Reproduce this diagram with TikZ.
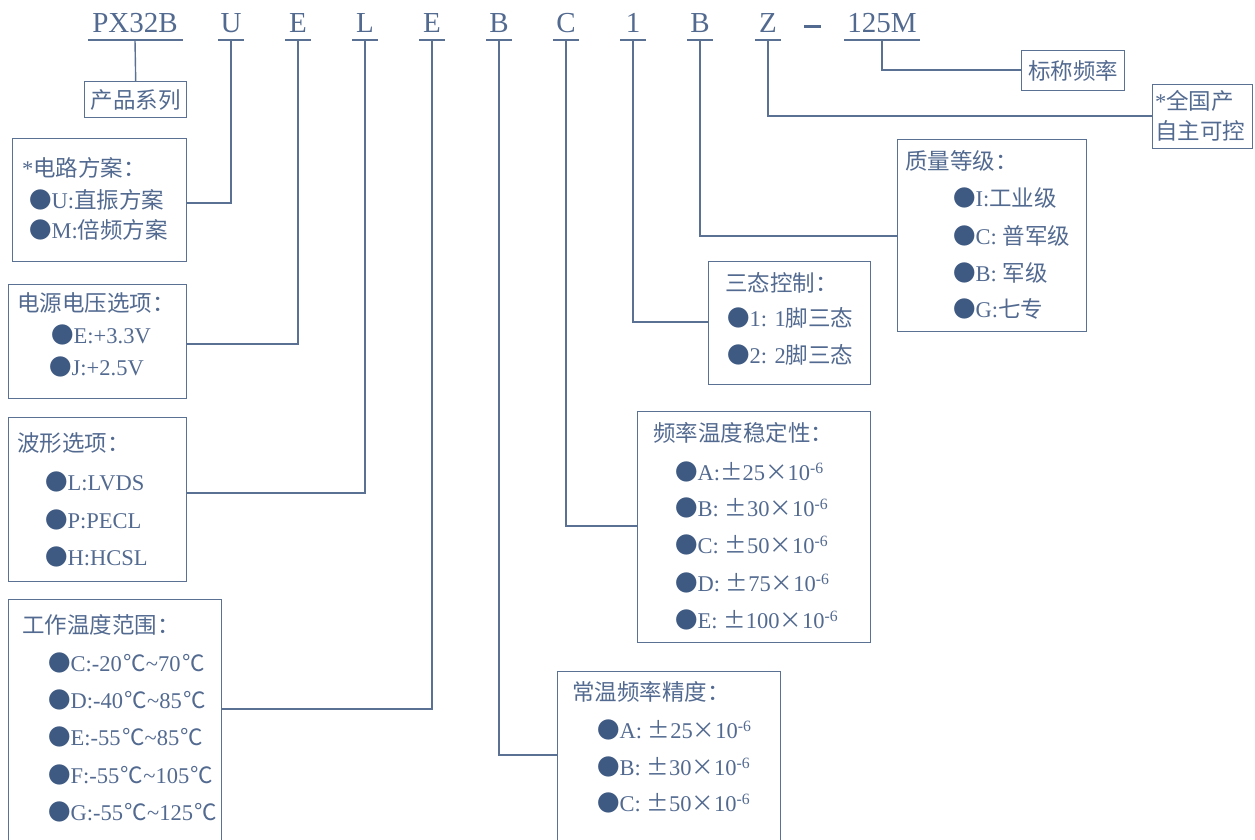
\documentclass[tikz,border=0pt]{standalone}
\usepackage{fontspec}
\setmainfont{Liberation Serif}
\newfontfamily\zhfont{Noto Sans CJK SC}
\newcommand\zh[1]{{\zhfont #1}}
\definecolor{txt}{HTML}{536A90}
\definecolor{lnc}{HTML}{5A7194}
\definecolor{bul}{HTML}{3E5A82}
\newcommand\bu{\zh{\textcolor{bul}{●}}}
\newcommand\ppm[1]{\zh{±}#1\zh{×}10\textsuperscript{-6}}
\newcommand\dg{\kern1.5pt\zh{℃}}
\begin{document}
\begin{tikzpicture}[x=1pt,y=-1pt,
  hdr/.style={font=\fontsize{29}{30}\selectfont, text=txt, inner sep=0pt, anchor=base},
  conn/.style={draw=lnc, line width=1.4pt},
  box/.style={draw=lnc, line width=1.4pt, anchor=north west, inner sep=0pt},
  lbl/.style={font=\fontsize{22.5}{24}\selectfont, text=txt, inner sep=0pt, anchor=west},
  clbl/.style={font=\fontsize{22.5}{24}\selectfont, text=txt, inner sep=0pt}]
\useasboundingbox (0,0) rectangle (1255,839);
% header
\node[hdr] (hP) at (135,32) {PX32B};
\node[hdr] (hU) at (231,32) {U};
\node[hdr] (hE1) at (298,32) {E};
\node[hdr] (hL) at (365,32) {L};
\node[hdr] (hE2) at (432,32) {E};
\node[hdr] (hB1) at (499,32) {B};
\node[hdr] (hC) at (566,32) {C};
\node[hdr] (h1) at (633,32) {1};
\node[hdr] (hB2) at (700,32) {B};
\node[hdr] (hZ) at (768,32) {Z};
\node[inner sep=0pt, fill=txt, minimum width=17pt, minimum height=3pt] (hDash) at (812,26) {};
\node[hdr] (hM) at (882,32) {125M};
% underline anchors
\coordinate (uP) at (135,40);
\coordinate (uU) at (231,40);
\coordinate (uE1) at (298,40);
\coordinate (uL) at (365,40);
\coordinate (uE2) at (432,40);
\coordinate (uB1) at (499,40);
\coordinate (uC) at (566,40);
\coordinate (u1) at (633,40);
\coordinate (uB2) at (700,40);
\coordinate (uZ) at (768,40);
\coordinate (uM) at (882,40);
\draw[conn] ([xshift=-47pt]uP) -- ([xshift=48pt]uP);
\foreach \c in {uU,uE1,uL,uE2,uB1,uC,u1,uB2,uZ}
  \draw[conn] ([xshift=-13pt]\c) -- ([xshift=13pt]\c);
\draw[conn] ([xshift=-38pt]uM) -- ([xshift=38pt]uM);
% boxes
\node[box, minimum width=102pt, minimum height=36pt] (bSeries) at (84,81) {};
\node[clbl] (tSeries) at (bSeries.center) {\zh{产品系列}};
\node[box, minimum width=103pt, minimum height=40pt] (bFreq) at (1021,50) {};
\node[clbl] (tFreq) at (bFreq.center) {\zh{标称频率}};
\node[box, minimum width=100pt, minimum height=64pt] (bDom) at (1152,84) {};
\node[lbl] (tDom1) at (1155,101) {*\zh{全国产}};
\node[lbl] (tDom2) at (1155,131) {\zh{自主可控}};

\node[box, minimum width=174pt, minimum height=123pt] (bCirc) at (12,138) {};
\node[lbl] (tCirc) at (22,168) {*\zh{电路方案：}};
\node[lbl] (iCirc1) at (29,200) {\bu U:\zh{直振方案}};
\node[lbl] (iCirc2) at (29,230) {\bu M:\zh{倍频方案}};

\node[box, minimum width=178pt, minimum height=114pt] (bVolt) at (8,284) {};
\node[lbl] (tVolt) at (17,303) {\zh{电源电压选项：}};
\node[lbl] (iVolt1) at (51,335) {\bu E:+3.3V};
\node[lbl] (iVolt2) at (49,367) {\bu J:+2.5V};

\node[box, minimum width=178pt, minimum height=164pt] (bWave) at (8,417) {};
\node[lbl] (tWave) at (17,443) {\zh{波形选项：}};
\node[lbl] (iWave1) at (45,482) {\bu L:LVDS};
\node[lbl] (iWave2) at (45,520) {\bu P:PECL};
\node[lbl] (iWave3) at (45,557) {\bu H:HCSL};

\node[box, minimum width=213pt, minimum height=260pt] (bTemp) at (8,599) {};
\node[lbl] (tTemp) at (22,625) {\zh{工作温度范围：}};
\node[lbl] (iTemp1) at (48,663) {\bu C:-20\dg\textasciitilde70\dg};
\node[lbl] (iTemp2) at (48,700) {\bu D:-40\dg\textasciitilde85\dg};
\node[lbl] (iTemp3) at (48,737) {\bu E:-55\dg\textasciitilde85\dg};
\node[lbl] (iTemp4) at (48,775) {\bu F:-55\dg\textasciitilde105\dg};
\node[lbl] (iTemp5) at (48,812) {\bu G:-55\dg\textasciitilde125\dg};

\node[box, minimum width=223pt, minimum height=190pt] (bAcc) at (557,671) {};
\node[lbl] (tAcc) at (572,692) {\zh{常温频率精度：}};
\node[lbl] (iAcc1) at (597,730) {\bu A: \ppm{25}};
\node[lbl] (iAcc2) at (597,767) {\bu B: \ppm{30}};
\node[lbl] (iAcc3) at (597,803) {\bu C: \ppm{50}};

\node[box, minimum width=233pt, minimum height=231pt] (bStab) at (637,411) {};
\node[lbl] (tStab) at (653,433) {\zh{频率温度稳定性：}};
\node[lbl] (iStab1) at (675,472) {\bu A:\ppm{25}};
\node[lbl] (iStab2) at (675,508) {\bu B: \ppm{30}};
\node[lbl] (iStab3) at (675,545) {\bu C: \ppm{50}};
\node[lbl] (iStab4) at (675,583) {\bu D: \ppm{75}};
\node[lbl] (iStab5) at (675,620) {\bu E: \ppm{100}};

\node[box, minimum width=162pt, minimum height=123pt] (bTri) at (708,261) {};
\node[lbl] (tTri) at (725,283) {\zh{三态控制：}};
\node[lbl] (iTri1) at (727,318) {\bu 1: 1\zh{脚三态}};
\node[lbl] (iTri2) at (727,355) {\bu 2: 2\zh{脚三态}};

\node[box, minimum width=189pt, minimum height=192pt] (bQual) at (897,139) {};
\node[lbl] (tQual) at (905,161) {\zh{质量等级：}};
\node[lbl] (iQual1) at (953,198) {\bu I:\zh{工业级}};
\node[lbl] (iQual2) at (953,236) {\bu C: \zh{普军级}};
\node[lbl] (iQual3) at (953,273) {\bu B: \zh{军级}};
\node[lbl] (iQual4) at (953,309) {\bu G:\zh{七专}};
% connection points on boxes
\coordinate (kU) at (186,203);
\coordinate (kV) at (186,344);
\coordinate (kW) at (186,493);
\coordinate (kT) at (221,709);
\coordinate (kA) at (557,755);
\coordinate (kS) at (637,526);
\coordinate (kZ) at (708,322);
\coordinate (kQ) at (897,236);
\coordinate (kN) at (1152,116);
\coordinate (kF) at (1021,70);
% connectors
\draw[conn] (uP) -- (bSeries.north);
\draw[conn] (uU) |- (kU);
\draw[conn] (uE1) |- (kV);
\draw[conn] (uL) |- (kW);
\draw[conn] (uE2) |- (kT);
\draw[conn] (uB1) |- (kA);
\draw[conn] (uC) |- (kS);
\draw[conn] (u1) |- (kZ);
\draw[conn] (uB2) |- (kQ);
\draw[conn] (uZ) |- (kN);
\draw[conn] (uM) |- (kF);
\end{tikzpicture}
\end{document}
